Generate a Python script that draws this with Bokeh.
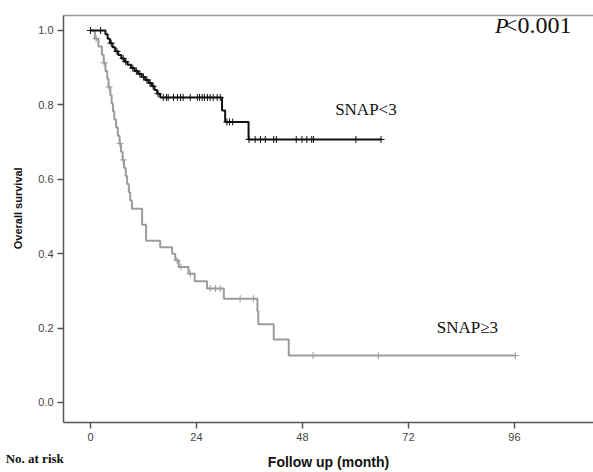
import numpy as np
from bokeh.plotting import figure
from bokeh.models import Range1d, FixedTicker, LinearAxis, Label, NumeralTickFormatter
from bokeh.embed import file_html
from bokeh.resources import INLINE

# ---- data ----
x_ticks = [0, 24, 48, 72, 96]
y_ticks = [0.0, 0.2, 0.4, 0.6, 0.8, 1.0]

lt3_time = [0, 3.4, 3.9, 4.4, 5.0, 5.6, 6.3, 7.0, 7.7, 8.4, 9.2, 10.0, 10.8, 11.6, 12.4,
            13.2, 13.9, 14.5, 15.1, 15.8, 29.8, 30.5, 35.8, 66.0]
lt3_surv = [1.0, 0.99, 0.978, 0.966, 0.955, 0.944, 0.934, 0.925, 0.916, 0.908, 0.899, 0.891,
            0.883, 0.875, 0.867, 0.859, 0.850, 0.840, 0.830, 0.820, 0.785, 0.754, 0.707, 0.707]
lt3_censor = [0.0, 2.3, 4.7, 6.0, 7.4, 8.0, 9.6, 10.4, 11.2, 12.0, 12.8, 13.5, 14.2, 15.3,
              16.5, 17.2, 17.6, 18.8, 19.7, 20.4, 21.0, 22.6, 24.2, 24.7, 25.3, 25.8, 26.5,
              27.1, 27.8, 28.7, 29.4, 30.9, 31.5, 32.2, 35.9, 37.3, 38.5, 39.6, 41.5, 42.1,
              46.6, 47.9, 49.0, 50.1, 50.5, 60.1, 65.8]

ge3_time = [0, 1.0, 1.8, 2.6, 3.0, 3.4, 3.8, 4.1, 4.5, 4.8, 5.1, 5.4, 5.8, 6.2, 6.6, 6.9,
            7.3, 7.6, 8.0, 8.3, 8.7, 9.0, 9.4, 11.7, 12.6, 15.8, 18.5, 19.2, 20.0, 22.2,
            23.6, 26.4, 30.2, 37.8, 38.0, 41.5, 44.9, 96.2]
ge3_surv = [1.0, 0.978, 0.957, 0.935, 0.913, 0.891, 0.870, 0.848, 0.826, 0.804, 0.783,
            0.761, 0.739, 0.717, 0.696, 0.674, 0.652, 0.630, 0.609, 0.587, 0.565, 0.543,
            0.521, 0.478, 0.435, 0.417, 0.400, 0.382, 0.364, 0.346, 0.326, 0.306, 0.279,
            0.245, 0.210, 0.169, 0.126, 0.126]
ge3_censor = [1.3, 3.1, 4.2, 6.7, 7.4, 19.6, 20.5, 22.6, 27.1, 28.3, 29.4, 33.9, 36.9,
              50.4, 65.2, 96.2]


def surv_at(times, surv, t):
    idx = np.searchsorted(np.array(times), np.array(t), side="right") - 1
    return list(np.array(surv)[np.clip(idx, 0, len(surv) - 1)])


BLACK = "#111111"
GRAY = "#9c9c9c"
AXIS = "#555555"
SANS = "Liberation Sans"
SERIF = "Liberation Serif"

p = figure(width=593, height=472, output_backend="svg", toolbar_location=None,
           x_range=Range1d(-6.1, 113.9), y_range=Range1d(-0.054, 1.0403),
           min_border_left=63, min_border_right=0, min_border_top=9, min_border_bottom=50)
p.outline_line_color = None
p.grid.visible = False
p.background_fill_color = "white"

# curves
p.step(ge3_time, ge3_surv, mode="after", line_color=GRAY, line_width=2)
p.scatter(ge3_censor, surv_at(ge3_time, ge3_surv, ge3_censor), marker="cross", size=7,
          line_color=GRAY, line_width=1)
p.step(lt3_time, lt3_surv, mode="after", line_color=BLACK, line_width=2)
p.scatter(lt3_censor, surv_at(lt3_time, lt3_surv, lt3_censor), marker="cross", size=7,
          line_color=BLACK, line_width=1)

# axes
for ax in (p.xaxis[0], p.yaxis[0]):
    ax.axis_line_color = AXIS
    ax.axis_line_width = 1.5
    ax.major_tick_line_color = AXIS
    ax.major_tick_line_width = 1.5
    ax.major_tick_out = 6
    ax.major_tick_in = 0
    ax.minor_tick_line_color = None
    ax.major_label_text_font = SANS
    ax.major_label_text_font_size = "11px"
    ax.major_label_text_color = "#444444"
    ax.axis_label_text_font = SANS
    ax.axis_label_text_font_style = "bold"
    ax.axis_label_text_color = "#111111"

p.xaxis.ticker = FixedTicker(ticks=x_ticks)
p.yaxis.ticker = FixedTicker(ticks=y_ticks)
p.yaxis.formatter = NumeralTickFormatter(format="0.0")
p.xaxis.axis_label = "Follow up (month)"
p.yaxis.axis_label = "\u00a0" * 7 + "Overall survival"
p.xaxis.axis_label_text_font_size = "14px"
p.yaxis.axis_label_text_font_size = "11px"
p.xaxis.major_label_standoff = 4
p.yaxis.major_label_standoff = 4
p.xaxis.axis_label_standoff = 10
p.yaxis.axis_label_standoff = 11

top = LinearAxis(axis_line_color="#999999", axis_line_width=1.5, major_tick_line_color=None,
                 minor_tick_line_color=None, major_label_text_font_size="0px",
                 major_label_standoff=0, major_tick_out=0, ticker=FixedTicker(ticks=[]))
p.add_layout(top, "above")

# annotations
p.add_layout(Label(x=91.6, y=0.981, text="P", text_font=SERIF,
                   text_font_style="italic", text_font_size="22px", text_color="#111111"))
p.add_layout(Label(x=93.6, y=0.981, text="<0.001", text_font=SERIF,
                   text_font_size="24px", text_color="#111111"))
p.add_layout(Label(x=55.4, y=0.763, text="SNAP<3", text_font=SERIF,
                   text_font_size="17px", text_color="#111111"))
p.add_layout(Label(x=78.4, y=0.177, text="SNAP≥3", text_font=SERIF,
                   text_font_size="17px", text_color="#111111"))
# outside the frame: held by a side panel so that it is not clipped to the frame
p.add_layout(Label(x=-19.2, y=-0.1505, text="No. at risk", text_font=SERIF,
                   text_font_style="bold", text_font_size="13px",
                   text_baseline="middle", text_color="#111111"), "above")

open("out.html", "w").write(file_html(p, INLINE))
